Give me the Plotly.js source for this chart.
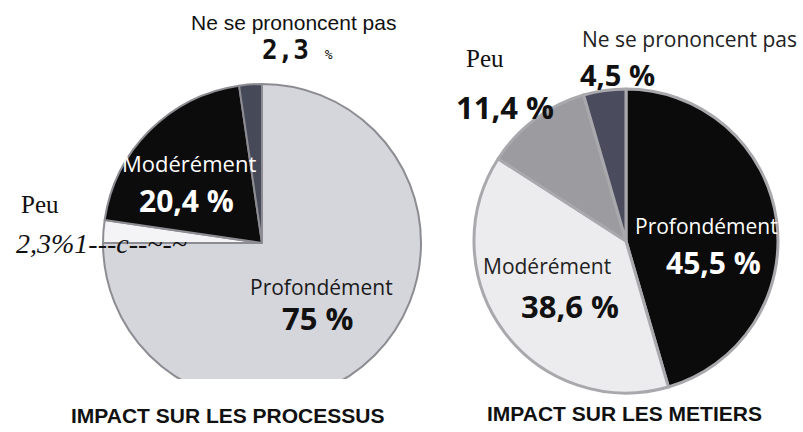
<!DOCTYPE html>
<html>
<head>
<meta charset="utf-8">
<script src="https://cdn.plot.ly/plotly-3.0.1.min.js"></script>
<style>
  html, body { margin: 0; padding: 0; background: #fff; }
  #draw { width: 803px; height: 432px; }
</style>
</head>
<body>
<div id="draw"></div>
<script>
// slices go clockwise from 12 o'clock
const labelsProcessus = ['Profondément', 'Peu', 'Modérément', 'Ne se prononcent pas']
const valuesProcessus = [75, 2.3, 20.4, 2.3]
const colorsProcessus = ['#d5d6dc', '#f4f4f6', '#0c0c0c', '#464a58']

const labelsMetiers = ['Profondément', 'Modérément', 'Peu', 'Ne se prononcent pas']
const valuesMetiers = [45.5, 38.6, 11.4, 4.5]
const colorsMetiers = ['#0b0b0b', '#ececee', '#9b9ba0', '#4a4b5c']

const titles = ['IMPACT SUR LES PROCESSUS', 'IMPACT SUR LES METIERS']

const W = 803, H = 432
const px = (x) => x / W
const py = (y) => 1 - y / H

const main = () => {
  const pieBase = {
    type: 'pie',
    sort: false,
    direction: 'clockwise',
    rotation: 0,
    textinfo: 'none',
    hoverinfo: 'label+percent',
    showlegend: false,
  }

  const data = [
    Object.assign({}, pieBase, {
      labels: labelsProcessus,
      values: valuesProcessus,
      marker: {colors: colorsProcessus, line: {color: '#8c8c92', width: 2}},
      domain: {x: [px(103), px(421)], y: [py(402), py(84)]},
    }),
    Object.assign({}, pieBase, {
      labels: labelsMetiers,
      values: valuesMetiers,
      marker: {colors: colorsMetiers, line: {color: '#a9a9ad', width: 3}},
      domain: {x: [px(473), px(779)], y: [py(393), py(89)]},
    }),
  ]

  const sans = 'Open Sans, DejaVu Sans, sans-serif'
  const serif = 'Liberation Serif, Times New Roman, serif'
  const ann = (x, y, text, font) => ({
    x: px(x), y: py(y), xref: 'paper', yref: 'paper',
    text: text, showarrow: false, xanchor: 'center', yanchor: 'middle',
    font: font,
  })

  const annotations = [
    // left pie
    ann(293, 22, 'Ne se prononcent pas', {family: 'Liberation Sans, Arial', size: 21, color: '#111'}),
    ann(297, 50, '<b>2,3</b> <span style="font-size:13px">%</span>', {family: 'DejaVu Sans Mono, monospace', size: 26, color: '#111'}),
    ann(189, 163, 'Modérément', {family: sans, size: 22, color: '#fff'}),
    ann(186, 200, '<b>20,4 %</b>', {family: sans, size: 30, color: '#fff'}),
    ann(40, 204, 'Peu', {family: serif, size: 25, color: '#111'}),
    ann(101, 244, '<i>2,3%1---c--~-~</i>', {family: serif, size: 28, color: '#111'}),
    ann(321, 287, 'Profondément', {family: sans, size: 21, color: '#1a1a1a'}),
    ann(317, 318, '<b>75 %</b>', {family: sans, size: 31, color: '#111'}),
    ann(227, 415, '<b>' + titles[0] + '</b>', {family: 'Liberation Sans Narrow, Arial Narrow, Liberation Sans', size: 21, color: '#111'}),
    // right pie
    ann(485, 58, 'Peu', {family: serif, size: 25, color: '#111'}),
    ann(505, 107, '<b>11,4 %</b>', {family: sans, size: 31, color: '#111'}),
    ann(689, 39, 'Ne se prononcent pas', {family: sans, size: 21, color: '#222'}),
    ann(617, 74, '<b>4,5 %</b>', {family: sans, size: 29, color: '#111'}),
    ann(706, 226, 'Profondément', {family: sans, size: 21, color: '#fff'}),
    ann(713, 262, '<b>45,5 %</b>', {family: sans, size: 30, color: '#fff'}),
    ann(547, 266, 'Modérément', {family: sans, size: 21, color: '#222'}),
    ann(570, 306, '<b>38,6 %</b>', {family: sans, size: 31, color: '#111'}),
    ann(624, 413, '<b>' + titles[1] + '</b>', {family: 'Liberation Sans Narrow, Arial Narrow, Liberation Sans', size: 21, color: '#111'}),
  ]

  const layout = {
    width: W,
    height: H,
    margin: {l: 0, r: 0, t: 0, b: 0},
    paper_bgcolor: '#fff',
    showlegend: false,
    annotations: annotations,
    // the scanned left pie is cropped flat at the bottom
    shapes: [{
      type: 'rect', xref: 'paper', yref: 'paper', layer: 'above',
      x0: px(90), x1: px(430), y0: py(404), y1: py(379),
      fillcolor: '#fff', line: {width: 0},
    }],
  }

  Plotly.newPlot('draw', data, layout, {displayModeBar: false, staticPlot: true})
}

main()
</script>
</body>
</html>
